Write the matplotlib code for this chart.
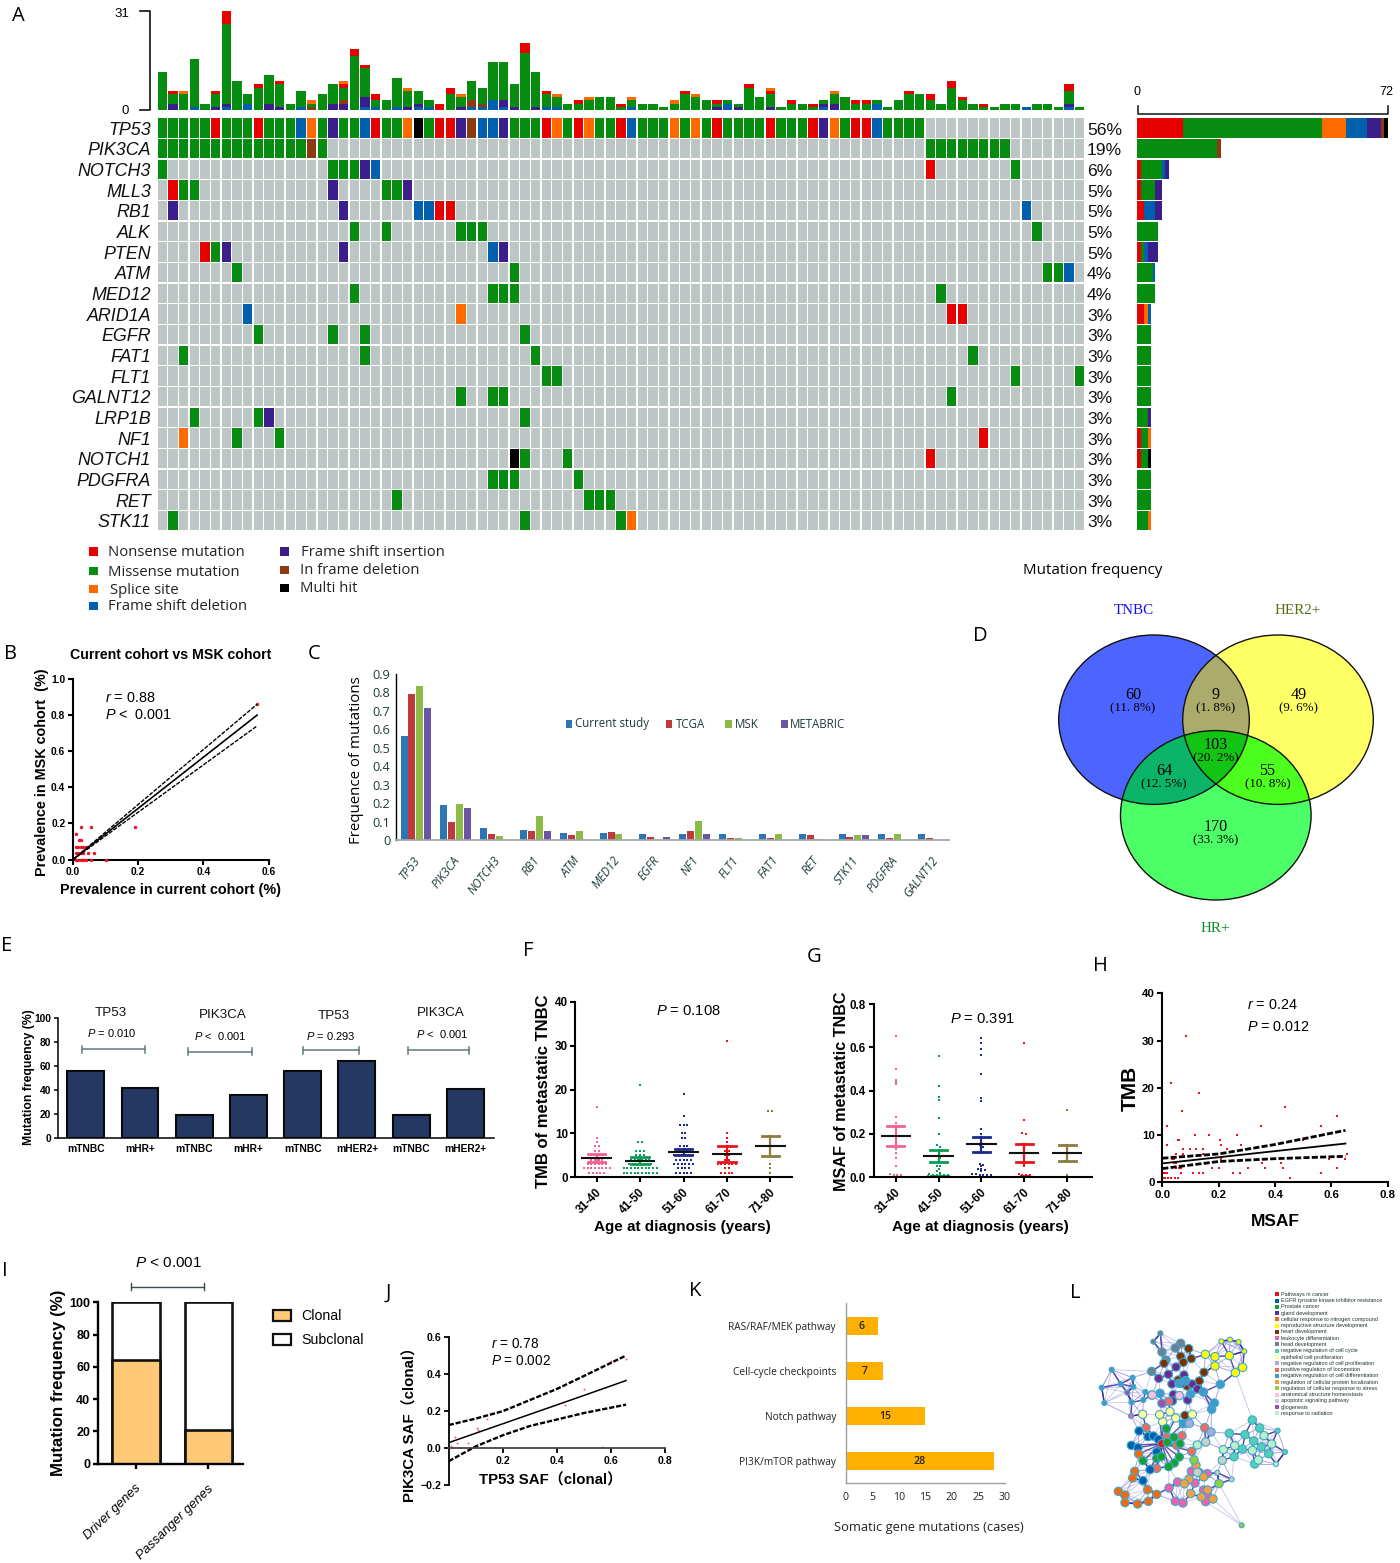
import numpy as np
import matplotlib
matplotlib.use('Agg')
import matplotlib.pyplot as plt
from matplotlib.patches import Ellipse, Rectangle
from matplotlib.collections import LineCollection
from matplotlib.transforms import ScaledTranslation

plt.rcParams['font.family'] = ['Liberation Sans', 'Noto Sans CJK SC', 'DejaVu Sans']
plt.rcParams['mathtext.fontset'] = 'custom'
plt.rcParams['mathtext.it'] = 'Liberation Sans:italic'
plt.rcParams['mathtext.rm'] = 'Liberation Sans'
plt.rcParams['mathtext.default'] = 'regular'

W, H = 1400, 1563
NARROW = ['Liberation Sans', 'Noto Sans CJK SC']

# ---------- A: oncoplot ----------
GENES = ['TP53','PIK3CA','NOTCH3','MLL3','RB1','ALK','PTEN','ATM','MED12','ARID1A','EGFR','FAT1','FLT1',
         'GALNT12','LRP1B','NF1','NOTCH1','PDGFRA','RET','STK11']
PCT = [56,19,6,5,5,5,5,4,4,3,3,3,3,3,3,3,3,3,3,3]
N_COLS = 87
KIND_COL = {'R':'#E60000','G':'#068C0E','O':'#FF6A00','B':'#0060AE','P':'#3B1E8C','W':'#8B3A12','K':'#000000'}
KIND_NAME = {'R':'Nonsense mutation','G':'Missense mutation','O':'Splice site','B':'Frame shift deletion',
             'P':'Frame shift insertion','W':'In frame deletion','K':'Multi hit'}
TP53_ROW = 'GGGGGRGGGRGGGBOGPGGBRGGOKGRRPWBBPGGGROGROGGRBGGGOGOGRGGGGRGGGRPOGRRBGGGG'
ONCO = {
 'PIK3CA': {'G':[0,1,2,3,4,5,6,7,8,9,10,11,12,13,15,72,73,74,75,76,77,78,79],'W':[14]},
 'NOTCH3': {'G':[0,16,17,18,80],'P':[19],'B':[20],'R':[72]},
 'MLL3': {'R':[1],'G':[2,3,21,22],'P':[16,23]},
 'RB1': {'P':[1,17],'B':[24,25,81],'R':[26,27]},
 'ALK': {'G':[18,21,28,29,30,82]},
 'PTEN': {'R':[4],'G':[5],'P':[6,17,32],'B':[31]},
 'ATM': {'G':[7,33,83,84],'B':[85]},
 'MED12': {'G':[18,31,32,33,73]},
 'ARID1A': {'B':[8],'O':[28],'R':[74,75]},
 'EGFR': {'G':[9,16,19,34]},
 'FAT1': {'G':[2,19,35,76]},
 'FLT1': {'G':[36,37,80,86]},
 'GALNT12': {'G':[28,31,32,74]},
 'LRP1B': {'G':[3,9,34],'P':[10]},
 'NF1': {'O':[2],'G':[7,11],'R':[77]},
 'NOTCH1': {'K':[33],'G':[34,38],'R':[72]},
 'PDGFRA': {'G':[31,32,33,39]},
 'RET': {'G':[22,40,41,42]},
 'STK11': {'G':[1,34,43],'O':[44]},
}
TOP_MISSENSE = [12,3,5,15,2,4,25,9,3,7,9,7,2,5,1,5,6,4,17,9,2,3,9,5,4,2,0,5,3,6,5,12,12,7,18,11,4,3,2,2,3,4,4,1,2,
                2,2,1,2,5,4,3,1,1,1,7,4,4,1,2,2,1,1,3,4,2,2,1,1,3,5,5,3,2,7,3,2,1,1,2,2,0,2,2,1,4,1]
TOP_NONSENSE = {1:1,5:1,6:4,9:1,11:1,17:1,18:2,19:1,20:2,26:2,27:2,34:3,36:1,39:1,43:1,49:1,52:1,55:1,57:1,59:1,61:1,
                65:1,66:1,70:1,72:2,74:2,75:1,77:1,85:2}
TOP_SPLICE = {2:1,14:1,17:1,23:1,28:1,37:1,40:1,44:1,48:1,50:1,57:1,63:1}
TOP_FSDEL = {3:1,6:1,8:2,13:1,19:1,20:1,22:1,24:1,25:1,29:1,30:1,31:3,32:1,36:1,37:1,44:1,53:2,62:1,67:2,81:1,85:1}
TOP_FSINS = {1:2,5:1,6:1,10:2,11:1,16:2,17:2,19:3,23:1,24:1,28:1,32:2,33:1,35:1,52:1,54:1,57:1,62:1,63:2,85:1}
TOP_INFRAME = {14:1,17:1,29:2,30:1}
RIGHT_BARS = {
 'TP53':[('R',13),('G',40),('O',7),('B',6),('P',4),('W',1),('K',1)],'PIK3CA':[('G',23),('W',1)],
 'NOTCH3':[('R',1),('G',6),('B',1),('P',1)],'MLL3':[('R',1),('G',4),('P',2)],'RB1':[('R',2),('B',3),('P',2)],
 'ALK':[('G',6)],'PTEN':[('R',1),('G',1),('B',1),('P',3)],'ATM':[('G',4.5),('B',0.5)],'MED12':[('G',5)],
 'ARID1A':[('R',2),('O',1),('B',1)],'EGFR':[('G',4)],'FAT1':[('G',4)],'FLT1':[('G',4)],'GALNT12':[('G',4)],
 'LRP1B':[('G',3),('P',1)],'NF1':[('R',1),('G',2),('O',1)],'NOTCH1':[('R',1),('G',2),('K',1)],'PDGFRA':[('G',4)],
 'RET':[('G',4)],'STK11':[('G',3),('O',1)]}

# ---------- B ----------
B_X = [0.565,0.19,0.055,0.025,0.01,0.017,0.025,0.008,0.016,0.024,0.032,0.04,0.047,0.008,0.016,0.024,0.032,0.047,0.063,
       0.008,0.016,0.024,0.032,0.04,0.055,0.1]
B_Y = [0.86,0.18,0.18,0.18,0.14,0.107,0.107,0.07,0.07,0.07,0.07,0.07,0.07,0.036,0.036,0.036,0.036,0.036,0.036,
       0,0,0,0,0,0,0]
B_LINE_X = [0.0,0.565]
B_FIT = [0.0,0.80]
B_UP = [0.0,0.86]
B_LO = [0.0,0.74]

# ---------- C ----------
C_GENES = ['TP53','PIK3CA','NOTCH3','RB1','ATM','MED12','EGFR','NF1','FLT1','FAT1','RET','STK11','PDGFRA','GALNT12']
C_CURRENT = [.565,.19,.063,.055,.038,.038,.03,.03,.03,.03,.03,.03,.03,.03]
C_TCGA = [.79,.10,.035,.05,.027,.043,.018,.05,.013,.013,.027,.018,.013,.013]
C_MSK = [.835,.195,.022,.13,.047,.03,0,.103,.01,.03,.005,.027,.03,0]
C_METABRIC = [.715,.175,0,.048,0,0,.018,.03,0,0,0,.027,0,0]

# ---------- D ----------
D_LABELS = [('60','(11. 8%)',1133,695),('9','(1. 8%)',1216,695),('49','(9. 6%)',1298.5,695),
            ('103','(20. 2%)',1216,745),('64','(12. 5%)',1164,771),('55','(10. 8%)',1267.5,771),('170','(33. 3%)',1216,827)]

# ---------- E ----------
E_LABELS = ['mTNBC','mHR+','mTNBC','mHR+','mTNBC','mHER2+','mTNBC','mHER2+']
E_VALS = [56,42,19,36,56,64,19,41]

# ---------- F / G ----------
AGES = ['31-40','41-50','51-60','61-70','71-80']
AGE_COL = ['#F4608F','#0A9C57','#1B2A8C','#E8141C','#8C7B3E']
F_COUNTS = [{16:1,9:1,8:1,7:2,6:2,5:4,4:4,3:6,2:8,1:5},
            {21:1,8:2,6:3,5:3,4:6,3:7,2:10,1:10},
            {19:1,14:1,12:3,10:2,9:2,7:3,6:3,5:6,4:5,3:6,2:4,1:5},
            {31:1,10:1,9:1,8:1,7:1,6:2,5:2,4:2,3:6,2:2,1:4},
            {15:2,3:1,2:1,1:1}]
F_MEAN = [4.3,3.7,5.7,5.3,7.1]
F_UP = [5.2,4.5,6.5,7.2,9.4]
F_LO = [3.4,3.0,5.0,3.4,4.9]
G_VALS = [[.65,.50,.45,.43,.44,.28,.25,.22,.2,.18,.17,.15,.13,.11,.09,.05,.015,.01,.01,.005,.005,.01],
          [.56,.42,.37,.355,.275,.2,.15,.14,.12,.1,.09,.08,.07,.05,.05,.04,.03,.02,.015,.012,.01,.01,.01,.01,.005,.005,.005,.005,.005,.005,.005],
          [.645,.62,.59,.565,.475,.365,.35,.225,.2,.18,.15,.14,.13,.12,.11,.06,.055,.05,.04,.04,.035,.03,.015,.015,.012,.01,.01,.01,.005,.005],
          [.62,.265,.205,.2,.15,.11,.08,.055,.05,.015,.012,.01,.01,.005,.005,.005],
          [.31,.15,.075,.07,.01]]
G_MEAN = [.19,.098,.152,.112,.113]
G_UP = [.235,.125,.185,.152,.15]
G_LO = [.145,.07,.118,.07,.075]

# ---------- H ----------
H_X = [.083,.03,.132,.07,.435,.62,.015,.35,.565,.015,.055,.06,.115,.165,.205,.265,.5,.075,.098,.118,.143,.228,.208,.278,
       .075,.05,.145,.655,.59,.648,.21,.035,.04,.355,.42,.04,.05,.05,.06,.068,.175,.2,.305,.365,.43,.62,.003,.008,.015,
       .065,.11,.13,.143,.25,.275,.565,.005,.01,.02,.03,.045,.055,.453]
H_Y = [31,21,19,15,16,14,12,12,12,8,9,9,10,10,9,10,9,7,7,7,7,7,8,8,6,6,6,6,5,5,5,5,5,4,4,4,4,3,3,3,3,3,3,3,3,3,2,2,2,
       2,2,2,2,2,2,2,1,1,1,1,1,1,1]
H_LX = [0,.2,.4,.65]
H_FIT = [4.0,5.3,6.6,8.2]
H_UP = [5.1,6.0,8.0,11.0]
H_LO = [2.9,4.4,5.0,5.5]

# ---------- I / J / K ----------
I_CATS = ['Driver genes','Passanger genes']
I_CLONAL = [64,21]
I_TOTAL = [100,100]
J_X = [.01,.025,.03,.07,.105,.11,.14,.43,.5,.6,.655,.565]
J_Y = [.01,.06,.03,.03,.11,.10,.16,.235,.32,.47,.48,.005]
J_LX = [0,.1,.2,.3,.4,.5,.655]
J_FIT = [.03,.081,.132,.183,.234,.285,.365]
J_UP = [.125,.16,.2,.26,.32,.39,.5]
J_LO = [-.07,.01,.07,.12,.155,.19,.235]
K_CATS = ['PI3K/mTOR pathway','Notch pathway','Cell-cycle checkpoints','RAS/RAF/MEK pathway']
K_VALS = [28,15,7,6]

# ---------- L ----------
L_LEGEND = [('Pathways in cancer','#E8141C'),('EGFR tyrosine kinase inhibitor resistance','#0060B0'),('Prostate cancer','#18A030'),
 ('gland development','#6A2C91'),('cellular response to nitrogen compound','#F26A10'),('reproductive structure development','#FFFF00'),
 ('heart development','#7F3000'),('leukocyte differentiation','#F060B0'),('head development','#708090'),
 ('negative regulation of cell cycle','#50D0B8'),('epithelial cell proliferation','#FFFFA0'),('negative regulation of cell proliferation','#A8A8E0'),
 ('positive regulation of locomotion','#F46B5D'),('negative regulation of cell differentiation','#3E9BCD'),('regulation of cellular protein localization','#F5A040'),
 ('regulation of cellular response to stress','#90D040'),('anatomical structure homeostasis','#F8C0E0'),('apoptotic signaling pathway','#C8D0C8'),
 ('gliogenesis','#A050B0'),('response to radiation','#B8F0C8')]
L_NODES = {
 '#FFFF00':[(484,184),(510,179),(536,186),(553,214),(436,223),(465,230),(508,227),(548,262),(526,278),(465,258)],
 '#708090':[(301,160),(280,185),(362,190),(346,204),(306,216),(318,240),(275,274)],
 '#7F3000':[(386,206),(362,229),(394,236),(370,247),(312,250),(432,277),(418,303),(381,318),(375,406),(355,300)],
 '#6A2C91':[(348,261),(296,295),(325,283),(372,285),(365,310),(336,312),(396,312),(412,327),(340,344),(383,360),(337,363)],
 '#3E9BCD':[(377,302),(357,310),(392,342),(430,336),(481,313),(463,369),(455,388),(370,431),(125,323),(155,269),(133,369),(182,312),(218,293),(220,320),(256,336),(300,340),(215,367),(250,360)],
 '#F46B5D':[(326,364),(258,443),(434,443),(366,467),(320,472),(350,496),(395,514),(290,565)],
 '#FFFFA0':[(347,414),(397,403),(308,425),(330,395),(299,404),(275,345),(248,403)],
 '#0060B0':[(237,453),(264,470),(280,468),(295,478),(214,496),(234,503),(290,516),(270,569),(249,602)],
 '#E8141C':[(306,491)],
 '#18A030':[(319,446),(342,472),(322,487),(360,491),(358,531),(290,535),(304,530),(249,542),(343,549),(326,560)],
 '#F26A10':[(236,522),(224,574),(218,594),(175,634),(195,645),(263,629),(290,643),(195,668),(233,672),(265,664)],
 '#F060B0':[(394,574),(442,581),(418,578),(405,609),(327,624),(353,606),(431,630),(443,645),(346,664),(369,669),(437,665),(213,408)],
 '#F5A040':[(408,556),(431,591),(387,598),(373,611),(392,641),(443,630),(424,651),(459,657)],
 '#90D040':[(402,540),(477,611),(545,736)],
 '#C8D0C8':[(412,577),(437,486),(487,541),(515,598),(472,578)],
 '#50D0B8':[(508,460),(555,464),(577,420),(599,444),(581,483),(547,507),(522,530),(584,552),(626,521),(604,501),(653,452),(675,516)],
 '#B8F0C8':[(524,497),(577,511),(595,540),(635,492),(612,467),(490,509),(648,552),(412,495)],
 '#A8A8E0':[(453,456),(388,430)],
 '#A050B0':[(306,370),(202,338)],
 '#F8C0E0':[(277,345),(358,347)],
}
L_SMALL = [(125,323),(155,269),(133,369),(182,312),(218,293),(220,320),(256,336),(215,367),(250,360),(202,338),(213,408),
           (301,160),(280,185),(484,184),(510,179),(536,186),(553,214),(545,736),(515,598),(472,578),(653,452),(675,516),(648,552)]
L_EXTRA_EDGES = [((526,278),(577,420)),((477,611),(545,736)),((155,269),(125,323)),((133,369),(213,408)),((155,269),(275,274))]

# ---------- helpers ----------
fig = plt.figure(figsize=(W/100, H/100), dpi=100, facecolor='white')

def axpx(x0, y0, x1, y1):
    return fig.add_axes([x0/W, 1-y1/H, (x1-x0)/W, (y1-y0)/H])

ov = fig.add_axes([0, 0, 1, 1], zorder=20)
ov.set_xlim(0, W); ov.set_ylim(H, 0); ov.axis('off'); ov.patch.set_alpha(0)

def T(x, y, s, size=10, ha='center', va='center', **kw):
    return ov.text(x, y, s, fontsize=size, ha=ha, va=va, **kw)

def bracket(x0, x1, y, tick=3.5, color='#5f7a7a', lw=1.1):
    ov.plot([x0, x1], [y, y], color=color, lw=lw)
    ov.plot([x0, x0], [y-tick, y+tick], color=color, lw=lw)
    ov.plot([x1, x1], [y-tick, y+tick], color=color, lw=lw)

def prism(ax, size=8, lw=1.5, length=3.5):
    for s in ('top', 'right'):
        ax.spines[s].set_visible(False)
    for s in ('left', 'bottom'):
        ax.spines[s].set_linewidth(lw)
    ax.tick_params(width=lw, length=length, labelsize=size, pad=2)
    for t in ax.get_xticklabels()+ax.get_yticklabels():
        t.set_fontweight('bold')

def shift(labels, dx=0, dy=0):
    for t in labels:
        t.set_transform(t.get_transform()+ScaledTranslation(dx/100, -dy/100, fig.dpi_scale_trans))

def set_lab(ax, xlabel=None, xpos=None, ylabel=None, ypos=None, size=11, family=NARROW, weight='bold', **kw):
    if xlabel:
        ax.set_xlabel(xlabel, fontsize=size, family=family, weight=weight, ha='center', va='center', **kw)
        ax.xaxis.set_label_coords(xpos[0], xpos[1], transform=ov.transData)
    if ylabel:
        ax.set_ylabel(ylabel, fontsize=size, family=family, weight=weight, ha='center', va='center', **kw)
        ax.yaxis.set_label_coords(ypos[0], ypos[1], transform=ov.transData)

for s, x, y in [('A',18,16),('B',10,654),('C',314,654),('D',980,636),('E',7,946),('F',528,951),('G',814,957),
                ('H',1100,966),('I',5,1271),('J',388,1293),('K',695,1291),('L',1075,1293)]:
    T(x, y, s, size=14.5, family=['Open Sans'])

# ---------- A draw ----------
ax = axpx(157, 117.7, 1085, 531)
ax.set_xlim(0, N_COLS); ax.set_ylim(20, 0); ax.axis('off')
for r in range(20):
    ax.bar(np.arange(N_COLS)+.5, .93, bottom=r+.03, width=.87, color='#BCC6C4')
for c, k in enumerate(TP53_ROW):
    ax.bar(c+.5, .93, bottom=.03, width=.87, color=KIND_COL[k])
for gene, kinds in ONCO.items():
    r = GENES.index(gene)
    for k, cols in kinds.items():
        ax.bar(np.array(cols)+.5, .93, bottom=r+.03, width=.87, color=KIND_COL[k])
for r, (g, p) in enumerate(zip(GENES, PCT)):
    y = 117.7 + (r+.5)*20.665
    T(151, y+2, g, size=12.9, ha='right', style='italic', color='#111111')
    T(1087, y+2, f'{p}%', size=12.6, ha='left', color='#111111')

ax = axpx(157, 11, 1085, 110)
ax.set_xlim(0, N_COLS); ax.set_ylim(0, 31); ax.axis('off')
bottom = np.zeros(N_COLS)
for kind, d in [('B',TOP_FSDEL),('P',TOP_FSINS),('W',TOP_INFRAME),('G',dict(enumerate(TOP_MISSENSE))),('R',TOP_NONSENSE),('O',TOP_SPLICE)]:
    v = np.zeros(N_COLS)
    for c, n in d.items():
        v[c] = n
    ax.bar(np.arange(N_COLS)+.5, v, bottom=bottom, width=.88, color=KIND_COL[kind])
    bottom += v
ov.plot([140,150,150,140], [11,11,110,110], color='#222222', lw=1.3)
T(122, 14, '31', size=9.5); T(125, 111, '0', size=9.5)

ax = axpx(1137.4, 117.7, 1387.7, 531)
ax.set_xlim(0, 72); ax.set_ylim(20, 0); ax.axis('off')
for r, g in enumerate(GENES):
    left = 0
    for k, n in RIGHT_BARS[g]:
        ax.barh(r+.5, n, left=left, height=.93, color=KIND_COL[k])
        left += n
ov.plot([1137.6,1137.6,1387.6,1387.6], [106,114,114,106], color='#222222', lw=1.2)
T(1137.5, 92, '0', size=9); T(1386, 92, '72', size=9)
T(1092.5, 571, 'Mutation frequency', size=10.9, family=['Open Sans'])

for k, x, y, xt in [('R',93.5,551.7,108.5),('G',93.5,571,108.5),('O',93.5,589,110),('B',93.5,606,108.5),
                    ('P',284.5,551.7,301),('W',284.5,570,300),('K',284.5,588,300)]:
    ov.add_patch(Rectangle((x-4.5, y-4.5), 9, 8.5, color=KIND_COL[k], lw=0))
    T(xt, y+1, KIND_NAME[k], size=10.7, ha='left', family=['Open Sans'], color='#222222', weight='medium')

# ---------- B draw ----------
ax = axpx(73, 679, 268.5, 859.5)
ax.set_xlim(0, .6); ax.set_ylim(0, 1)
ax.set_xticks([0,.2,.4,.6]); ax.set_yticks([0,.2,.4,.6,.8,1.0])
ax.xaxis.set_major_formatter('{x:.1f}'); ax.yaxis.set_major_formatter('{x:.1f}')
ax.scatter(B_X, B_Y, s=6, color='#F01020', lw=0, clip_on=False, zorder=3)
ax.plot(B_LINE_X, B_FIT, color='k', lw=1.2, zorder=4)
ax.plot(B_LINE_X, B_UP, color='k', lw=1, ls=(0,(3,1)), zorder=4)
ax.plot(B_LINE_X, B_LO, color='k', lw=1, ls=(0,(3,1)), zorder=4)
prism(ax, size=7.4)
set_lab(ax, 'Prevalence in current cohort (%)', (170.5, 890), 'Prevalence in MSK cohort  (%)', (42, 772), size=10.4)
T(171, 655, 'Current cohort vs MSK cohort', size=10.2, weight='bold')
T(105, 698, r'$\mathit{r}$ = 0.88', size=10.4, ha='left')
T(105, 715, r'$\mathit{P}$ <  0.001', size=10.4, ha='left')

# ---------- C draw ----------
ax = axpx(396, 674, 949, 840)
ax.set_xlim(-.5, 13.39); ax.set_ylim(0, .9)
x = np.arange(len(C_GENES))
C_COL = ['#2E75B6','#C0393B','#8CBB45','#6B55A5']
C_NAMES = ['Current study','TCGA','MSK','METABRIC']
for i, (vals, c, nm) in enumerate(zip([C_CURRENT,C_TCGA,C_MSK,C_METABRIC], C_COL, C_NAMES)):
    ax.bar(x+(i-1.5)*.198, vals, width=.176, color=c, label=nm)
for s in ('top','right'):
    ax.spines[s].set_visible(False)
ax.spines['bottom'].set_color('#A0A8A8'); ax.spines['bottom'].set_linewidth(1.3)
ax.spines['left'].set_linewidth(1)
ax.set_yticks(np.arange(0,1,.1)); ax.set_yticklabels(['0','0.1','0.2','0.3','0.4','0.5','0.6','0.7','0.8','0.9'])
ax.set_xticks(x); ax.set_xticklabels(C_GENES, rotation=52, ha='right', rotation_mode='anchor', style='italic', fontsize=8.6, color='#1f3a3a', family=['Open Sans'])
ax.tick_params(axis='both', length=0)
ax.tick_params(axis='x', pad=10)
ax.tick_params(axis='y', labelsize=9.2, labelcolor='#1f3a3a', pad=4)
shift(ax.get_xticklabels(), dx=-3)
for t in ax.get_yticklabels():
    t.set_family(['Open Sans'])
set_lab(ax, None, None, 'Frequence of mutations', (356, 760), size=10.8, family=['Open Sans'], weight='normal')
for nm, c, xs, xt in zip(C_NAMES, C_COL, [568.6,668.6,728,784], [575,675.5,735,790]):
    ov.add_patch(Rectangle((xs-3, 720), 6.5, 8, color=c, lw=0))
    T(xt, 724, nm, size=8.3, ha='left', family=['Open Sans'], color='#1f3a3a')

# ---------- D draw ----------
def ell_pts(cx, cy, a=95.3, b=84.7, n=720):
    t = np.linspace(0, 2*np.pi, n, endpoint=False)
    return np.c_[cx+a*np.cos(t), cy+b*np.sin(t)]
def inside(p, e, a=95.3, b=84.7):
    return ((p[:,0]-e[0])/a)**2+((p[:,1]-e[1])/b)**2 <= 1.0
CIRC = {'A':(1154,719.7),'B':(1278,719.7),'C':(1215.8,815.3)}
def region(keys):
    pts = []
    for k in keys:
        p = ell_pts(*CIRC[k])
        m = np.ones(len(p), bool)
        for o in keys:
            if o != k:
                m &= inside(p, CIRC[o])
        pts.append(p[m])
    pts = np.vstack(pts)
    c = pts.mean(0)
    return pts[np.argsort(np.arctan2(pts[:,1]-c[1], pts[:,0]-c[0]))]
for k, col in [('A','#4D65FF'),('B','#FFFF66'),('C','#4DFF66')]:
    ov.add_patch(Ellipse(CIRC[k], 190.6, 169.4, fc=col, ec='none', zorder=1))
for keys, col in [('AB','#ABAB6B'),('AC','#0CB468'),('BC','#4CFF1E'),('ABC','#12C414')]:
    ov.fill(*region(keys).T, color=col, lw=0, zorder=2)
for k in CIRC:
    ov.add_patch(Ellipse(CIRC[k], 190.6, 169.4, fc='none', ec='#111111', lw=1, zorder=3))
SERIF = ['Liberation Serif', 'DejaVu Serif']
T(1133.5, 610, 'TNBC', size=10.8, color='#1010F0', family=SERIF)
T(1298, 610, 'HER2+', size=10.8, color='#556B10', family=SERIF)
T(1215.5, 928, 'HR+', size=10.8, color='#0A8A2A', family=SERIF)
for a, b, xx, yy in D_LABELS:
    T(xx, yy, a, size=11.6, family=SERIF, zorder=5)
    T(xx, yy+13.5, b, size=9.4, family=SERIF, zorder=5)

# ---------- E draw ----------
ax = axpx(58, 1018, 493.5, 1138)
ax.set_xlim(-.511, 7.52); ax.set_ylim(0, 100)
ax.bar(range(8), E_VALS, width=.68, color='#253864', edgecolor='#0a0a0a', lw=1.5)
ax.set_xticks(range(8)); ax.set_xticklabels(E_LABELS)
ax.set_yticks(range(0,101,20))
prism(ax, size=7.4, lw=1.1, length=3)
ax.tick_params(axis='x', length=0, pad=4)
set_lab(ax, None, None, 'Mutation frequency (%)', (29, 1077), size=8.8)
for t, x0, y0 in [('TP53',111,1013),('PIK3CA',223,1015),('TP53',333.6,1016),('PIK3CA',440.5,1013)]:
    T(x0, y0, t, size=9.6, color='#111111')
T(112, 1033, r'$\mathit{P}$ = 0.010', size=8)
T(220.5, 1036, r'$\mathit{P}$ <  0.001', size=8)
T(331, 1036, r'$\mathit{P}$ = 0.293', size=8)
T(442, 1034, r'$\mathit{P}$ <  0.001', size=8)
for x0, x1, y0 in [(82,144.6,1049),(187.7,252.4,1051.7),(303,359,1050),(407.6,468.6,1050)]:
    bracket(x0, x1, y0)

# ---------- F, G draw ----------
def swarm_xy(vals, step, binw):
    xs, ys = [], []
    vals = np.asarray(vals, float)
    bins = np.round(vals/binw).astype(int)
    for b in np.unique(bins):
        v = vals[bins == b]
        off = (np.arange(len(v))-(len(v)-1)/2)*step
        xs += list(off); ys += list(v)
    return np.array(xs), np.array(ys)

def dotplot(ax, groups, mean, up, lo, step, binw):
    for i, g in enumerate(groups):
        xs, ys = swarm_xy(g, step, binw)
        ax.scatter(xs+i, ys, s=2.6, marker='s', color=AGE_COL[i], lw=0, zorder=2, clip_on=False)
        ax.plot([i,i], [lo[i],up[i]], color=AGE_COL[i], lw=1.6, zorder=3)
        ax.plot([i-.2,i+.2], [up[i],up[i]], color=AGE_COL[i], lw=2, zorder=3)
        ax.plot([i-.2,i+.2], [lo[i],lo[i]], color=AGE_COL[i], lw=2, zorder=3)
        ax.plot([i-.33,i+.33], [mean[i],mean[i]], color='#111111', lw=1.5, zorder=4)

ax = axpx(575.4, 1002, 792, 1177)
ax.set_xlim(-.493, 4.5); ax.set_ylim(0, 40)
groups = [[v for v, n in d.items() for _ in range(n)] for d in F_COUNTS]
dotplot(ax, groups, F_MEAN, F_UP, F_LO, .085, 1)
ax.set_xticks(range(5)); ax.set_xticklabels(AGES, rotation=45, ha='right', rotation_mode='anchor')
ax.set_yticks([0,10,20,30,40])
prism(ax, size=8.4)
ax.tick_params(axis='x', pad=3)
shift(ax.get_xticklabels(), dx=-1)
set_lab(ax, 'Age at diagnosis (years)', (682, 1227), 'TMB of metastatic TNBC', (544, 1091), size=11)
ax.yaxis.label.set_fontsize(12)
T(688, 1011, r'$\mathit{P}$ = 0.108', size=10.6)

ax = axpx(873.6, 1004, 1092, 1177.3)
ax.set_xlim(-.515, 4.58); ax.set_ylim(0, .8)
dotplot(ax, G_VALS, G_MEAN, G_UP, G_LO, .085, .012)
ax.set_xticks(range(5)); ax.set_xticklabels(AGES, rotation=45, ha='right', rotation_mode='anchor')
ax.set_yticks([0,.2,.4,.6,.8]); ax.yaxis.set_major_formatter('{x:.1f}')
prism(ax, size=8.4)
ax.tick_params(axis='x', pad=3)
shift(ax.get_xticklabels(), dx=-1)
set_lab(ax, 'Age at diagnosis (years)', (980, 1227), 'MSAF of metastatic TNBC', (841, 1091), size=11)
ax.yaxis.label.set_fontsize(11.6)
T(982, 1019, r'$\mathit{P}$ = 0.391', size=10.6)

# ---------- H draw ----------
ax = axpx(1162.3, 993.3, 1387.7, 1182.3)
ax.set_xlim(0, .8); ax.set_ylim(0, 40)
ax.scatter(H_X, H_Y, s=3, marker='s', color='#F01020', lw=0, clip_on=False)
ax.plot(H_LX, H_FIT, color='k', lw=1.3)
ax.plot(H_LX, H_UP, color='k', lw=2, ls=(0,(2.2,.8)))
ax.plot(H_LX, H_LO, color='k', lw=2, ls=(0,(2.2,.8)))
ax.set_xticks([0,.2,.4,.6,.8]); ax.set_yticks([0,10,20,30,40]); ax.xaxis.set_major_formatter('{x:.1f}')
prism(ax, size=8.2)
set_lab(ax, 'MSAF', (1275, 1222), 'TMB', (1130, 1088), size=15)
ax.xaxis.label.set_fontsize(12.5)
T(1247, 1005, r'$\mathit{r}$ = 0.24', size=10.4, ha='left')
T(1247, 1027, r'$\mathit{P}$ = 0.012', size=10.4, ha='left')

# ---------- I draw ----------
ax = axpx(98, 1302.3, 243, 1463.7)
ax.set_xlim(-.53, 1.48); ax.set_ylim(0, 100)
ax.bar([0,1], I_TOTAL, width=.66, color='white', edgecolor='#111111', lw=1.9)
ax.bar([0,1], I_CLONAL, width=.66, color='#FDC976', edgecolor='#111111', lw=1.9)
ax.set_xticks([0,1]); ax.set_xticklabels(I_CATS, rotation=44, ha='right', rotation_mode='anchor')
ax.set_yticks(range(0,101,20))
prism(ax, size=9, lw=1.7)
for t in ax.get_xticklabels():
    t.set_style('italic'); t.set_fontweight('normal'); t.set_fontsize(9.4)
ax.tick_params(axis='x', pad=10)
shift(ax.get_xticklabels(), dx=-1)
set_lab(ax, None, None, 'Mutation frequency (%)', (59, 1383), size=12.2)
T(168, 1263, r'$\mathit{P}$ < 0.001', size=11)
bracket(130.5, 204, 1286.7, color='#2f4f4f', lw=1)
for y0, c, nm in [(1315.5,'#FDC976','Clonal'),(1339.5,'white','Subclonal')]:
    ov.add_patch(Rectangle((273, y0-5.5), 18, 10.5, fc=c, ec='#111111', lw=1.6))
    T(301, y0, nm, size=10.2, ha='left')

# ---------- J draw ----------
ax = axpx(448.7, 1337, 665.3, 1485.3)
ax.set_xlim(0, .8); ax.set_ylim(-.2, .6)
ax.scatter(J_X, J_Y, s=2, color='#F06070', lw=0, clip_on=False)
ax.plot(J_LX, J_FIT, color='k', lw=1.1)
ax.plot(J_LX, J_UP, color='k', lw=1.7, ls=(0,(2.2,.8)))
ax.plot(J_LX, J_LO, color='k', lw=1.7, ls=(0,(2.2,.8)))
ax.spines['bottom'].set_position(('data', 0))
ax.set_xticks([.2,.4,.6,.8]); ax.set_yticks([-.2,0,.2,.4,.6])
ax.xaxis.set_major_formatter('{x:.1f}'); ax.yaxis.set_major_formatter('{x:.1f}')
prism(ax, size=7.6, lw=1.3)
ax.spines['bottom'].set_color('#444444')
ax.tick_params(axis='x', pad=2)
set_lab(ax, 'TP53 SAF（clonal）', (551, 1480), 'PIK3CA SAF（clonal）', (410, 1421), size=10.8)
T(491, 1344, r'$\mathit{r}$ = 0.78', size=9.8, ha='left')
T(491, 1361, r'$\mathit{P}$ = 0.002', size=9.8, ha='left')

# ---------- K draw ----------
ax = axpx(845.8, 1303, 1004.7, 1482.7)
ax.set_xlim(0, 30); ax.set_ylim(-.49, 3.51)
ax.barh(range(4), K_VALS, height=.4, color='#FFB000')
for i, v in enumerate(K_VALS):
    ax.text(v/2, i-.02, str(v), ha='center', va='center', fontsize=7.6, family=['Open Sans'], weight='semibold', color='#222222')
for s in ('top','right'):
    ax.spines[s].set_visible(False)
for s in ('left','bottom'):
    ax.spines[s].set_color('#9aa0a0'); ax.spines[s].set_linewidth(1)
ax.set_yticks(range(4)); ax.set_yticklabels(K_CATS, fontsize=7.3, family=['Open Sans'], color='#222222')
ax.set_xticks(range(0,31,5))
ax.tick_params(length=0)
ax.tick_params(axis='x', pad=7, labelsize=7.6, labelcolor='#222222')
ax.tick_params(axis='y', pad=7)
for t in ax.get_xticklabels():
    t.set_family(['Open Sans'])
set_lab(ax, 'Somatic gene mutations (cases)', (929, 1527), size=9.3, family=['Open Sans'], weight='normal', color='#222222')

# ---------- L draw ----------
ax = axpx(1060, 1280, 1400, 1540)
ax.set_xlim(0, 1020); ax.set_ylim(780, 0); ax.axis('off')
xy = np.array([p for pts in L_NODES.values() for p in pts], float)
cols = [c for c, pts in L_NODES.items() for _ in pts]
sizes = [13 if tuple(p) in L_SMALL else 36 for pts in L_NODES.values() for p in pts]
d = np.hypot(*(xy[:,None,:]-xy[None,:,:]).transpose(2,0,1))
np.fill_diagonal(d, 1e9)
nearest = np.argsort(d, axis=1)
light = [(xy[i], xy[j]) for i in range(len(xy)) for j in nearest[i,:6] if d[i,j] < 130]
dark = [(xy[i], xy[j]) for i in range(len(xy)) for j in nearest[i,:2] if d[i,j] < 60]
light += [(np.array(a,float), np.array(b,float)) for a, b in L_EXTRA_EDGES]
hub = np.array([306,491.])
dark += [(hub, p) for p in xy if 0 < np.hypot(*(p-hub)) < 95]
ax.add_collection(LineCollection(light, colors='#8F86D8', linewidths=.6, alpha=.5, zorder=1))
ax.add_collection(LineCollection(dark, colors='#3A2A9A', linewidths=1.0, alpha=.8, zorder=2))
ax.scatter(xy[:,0], xy[:,1], s=sizes, c=cols, edgecolors='#3FA9C9', linewidths=.8, zorder=3)
for i, (nm, c) in enumerate(L_LEGEND):
    y0 = 43+i*18.8
    ax.add_patch(Rectangle((645, y0-6), 13, 12, color=c, lw=0, zorder=4))
    ax.text(662, y0, nm, fontsize=4.0, va='center', ha='left', color='#223333', zorder=4)

fig.savefig('out.png', dpi=100, facecolor='white')
